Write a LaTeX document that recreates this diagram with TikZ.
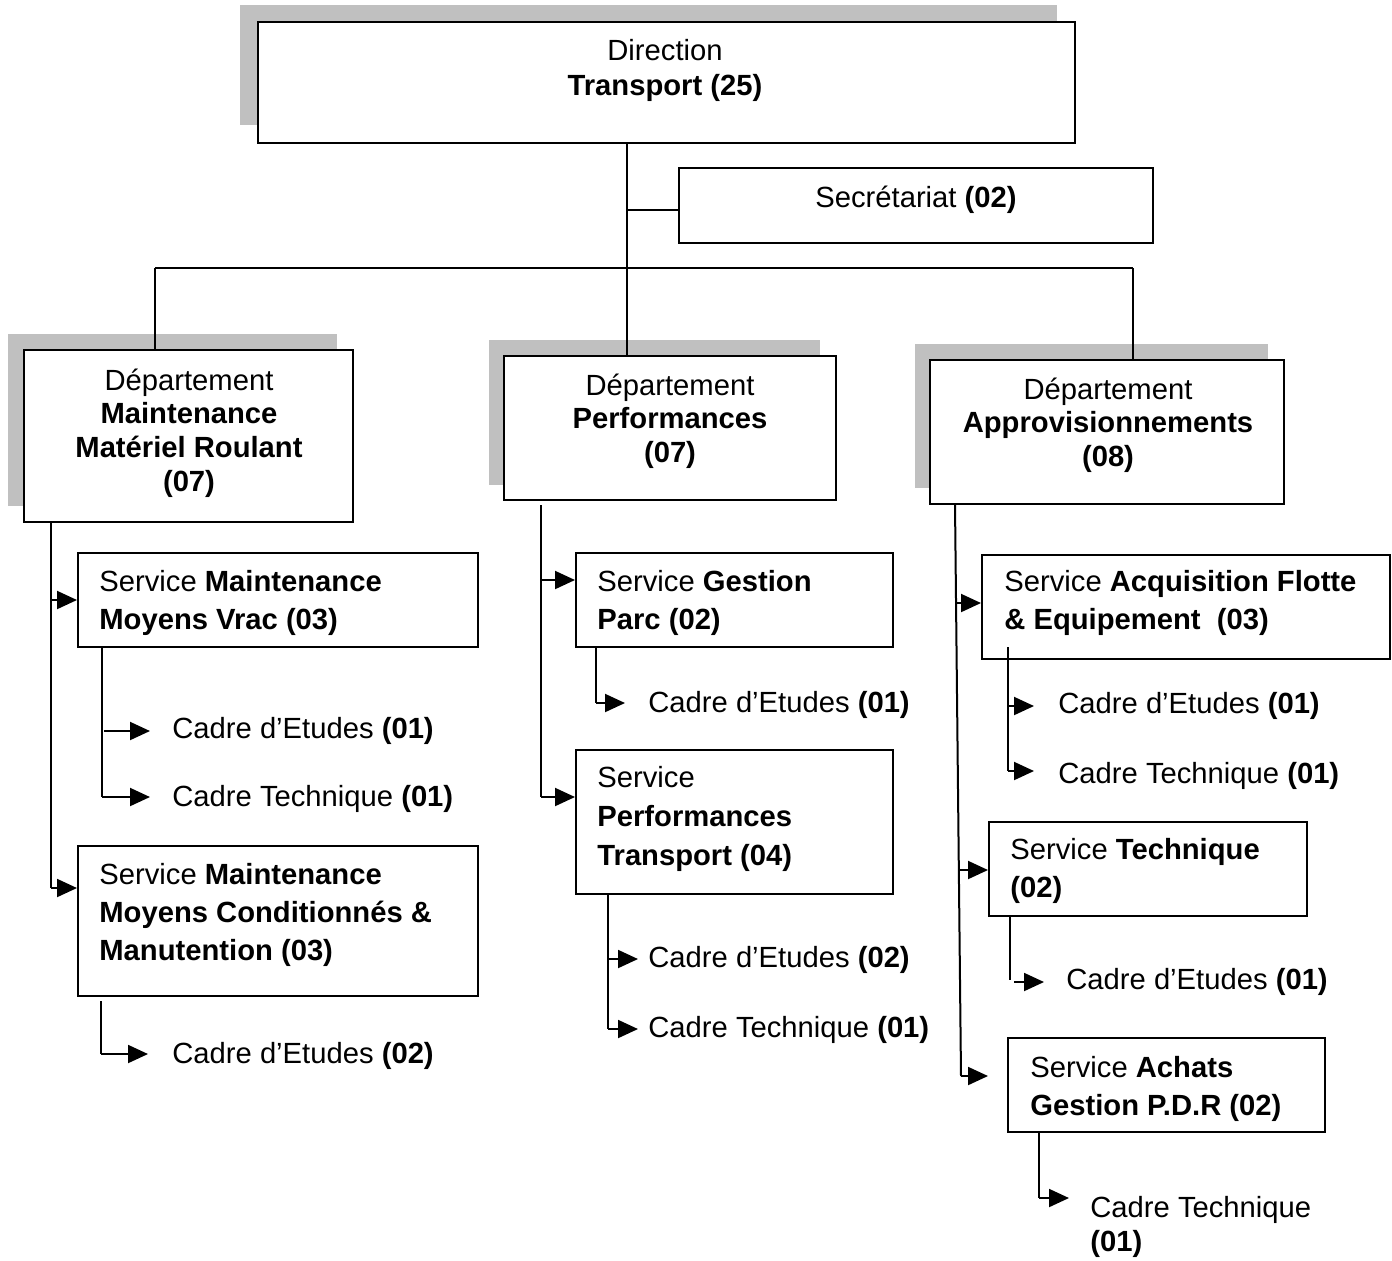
\documentclass[tikz,border=0pt]{standalone}
\usepackage{fontspec}
\setmainfont{Liberation Sans}
\usetikzlibrary{arrows.meta}
\definecolor{shadowc}{RGB}{192,192,192}
\tikzset{
  box/.style={draw=black, line width=1pt, fill=white, inner sep=0pt},
  shade/.style={fill=shadowc},
  ltxt/.style={inner sep=0pt, align=left, anchor=west, font=\fontsize{14.6}{19.3}\selectfont},
  ctxt/.style={inner sep=0pt, align=center, font=\fontsize{14.6}{16.8}\selectfont},
  leaf/.style={inner sep=0pt, anchor=west, font=\fontsize{14.6}{17}\selectfont},
  conn/.style={line width=1pt},
  arr/.style={line width=1pt, -{Triangle[length=10pt,width=9pt]}},
}
\begin{document}
\begin{tikzpicture}[x=0.5pt,y=-0.5pt]
\useasboundingbox (0,0) rectangle (1392,1260);

% shadows
\fill[shade] (240,5) rectangle (1057,125);
\fill[shade] (8,334) rectangle (337,506);
\fill[shade] (489,340) rectangle (820,485);
\fill[shade] (915,344) rectangle (1268,488);

% tree coordinates
\coordinate (busL) at (155,268);
\coordinate (busC) at (627,268);
\coordinate (busR) at (1133,268);
\coordinate (secJ) at (627,210);

% top-level connectors (drawn before boxes)
\draw[conn] (627,143) -- (busC);
\draw[conn] (busL) -- (busR);
\draw[conn] (busL) -- (155,350);
\draw[conn] (busC) -- (627,356);
\draw[conn] (busR) -- (1133,360);

% boxes
\node[box, minimum width=408.5pt, minimum height=60.5pt] (dir) at (666.5,82.5) {};
\node[box, minimum width=237pt, minimum height=37.5pt] (sec) at (916,205.5) {};
\node[box, minimum width=164.5pt, minimum height=86pt] (d1) at (188.5,436) {};
\node[box, minimum width=166pt, minimum height=72pt] (d2) at (670,428) {};
\node[box, minimum width=177pt, minimum height=72pt] (d3) at (1107,432) {};
\node[box, minimum width=200pt, minimum height=47pt] (s11) at (278,600) {};
\node[box, minimum width=200pt, minimum height=75pt] (s12) at (278,921) {};
\node[box, minimum width=158.5pt, minimum height=47pt] (s21) at (734.5,600) {};
\node[box, minimum width=158.5pt, minimum height=72pt] (s22) at (734.5,822) {};
\node[box, minimum width=204pt, minimum height=52pt] (s31) at (1186,607) {};
\node[box, minimum width=159pt, minimum height=47pt] (s32) at (1148,869) {};
\node[box, minimum width=158.5pt, minimum height=47pt] (s33) at (1166.5,1085) {};

% box texts
\node[ctxt, font=\fontsize{14.6}{17.5}\selectfont] (dirT) at (665,70) {Direction\\\textbf{Transport (25)}};
\node[ctxt] (secT) at (916,200) {Secrétariat \textbf{(02)}};
\node[ctxt] (d1T) at (189,433) {Département\\\textbf{Maintenance}\\\textbf{Matériel Roulant}\\\textbf{(07)}};
\node[ctxt] (d2T) at (670,421) {Département\\\textbf{Performances}\\\textbf{(07)}};
\node[ctxt] (d3T) at (1108,425) {Département\\\textbf{Approvisionnements}\\\textbf{(08)}};
\node[ltxt] (s11T) at (99,603) {Service \textbf{Maintenance}\\\textbf{Moyens Vrac (03)}};
\node[ltxt, font=\fontsize{14.6}{19}\selectfont] (s12T) at (99,915) {Service \textbf{Maintenance}\\\textbf{Moyens Conditionnés \&}\\\textbf{Manutention (03)}};
\node[ltxt] (s21T) at (597,603) {Service \textbf{Gestion}\\\textbf{Parc (02)}};
\node[ltxt] (s22T) at (597,819) {Service\\\textbf{Performances}\\\textbf{Transport (04)}};
\node[ltxt] (s31T) at (1004,603) {Service \textbf{Acquisition Flotte}\\\textbf{\& Equipement\ \ (03)}};
\node[ltxt] (s32T) at (1010,871) {Service \textbf{Technique}\\\textbf{(02)}};
\node[ltxt] (s33T) at (1030,1089) {Service \textbf{Achats}\\\textbf{Gestion P.D.R (02)}};

% leaves
\node[leaf] (l111) at (172,731) {Cadre d’Etudes \textbf{(01)}};
\node[leaf] (l112) at (172,799) {Cadre Technique \textbf{(01)}};
\node[leaf] (l121) at (172,1056) {Cadre d’Etudes \textbf{(02)}};
\node[leaf] (l211) at (648,705) {Cadre d’Etudes \textbf{(01)}};
\node[leaf] (l221) at (648,960) {Cadre d’Etudes \textbf{(02)}};
\node[leaf] (l222) at (648,1030) {Cadre Technique \textbf{(01)}};
\node[leaf] (l311) at (1058,706) {Cadre d’Etudes \textbf{(01)}};
\node[leaf] (l312) at (1058,776) {Cadre Technique \textbf{(01)}};
\node[leaf] (l321) at (1066,982) {Cadre d’Etudes \textbf{(01)}};
\node[leaf, align=left, font=\fontsize{14.6}{17}\selectfont] (l331) at (1090,1227) {Cadre Technique\\\textbf{(01)}};

% secretariat link
\draw[conn] (secJ) -- (secJ -| sec.west);

% department 1
\coordinate (t1a) at (51,522);
\coordinate (t1b) at (51,888);
\draw[conn] (t1a) -- (t1b);
\draw[arr] (t1a |- s11.west) -- (s11.west);
\draw[arr] (t1b) -- (t1b -| s12.west);
\coordinate (k11) at (102,797);
\draw[conn] (k11 |- s11.south) -- (k11);
\draw[arr] (104,731) -- ([xshift=-11pt]l111.west);
\draw[arr] (k11) -- ([xshift=-11pt]l112.west |- k11);
\coordinate (k12) at (101,1054);
\draw[conn] (101,1001) -- (k12);
\draw[arr] (k12) -- ([xshift=-12pt]l121.west |- k12);

% department 2
\coordinate (t2a) at (541,505);
\coordinate (t2b) at (541,797);
\draw[conn] (t2a) -- (t2b);
\draw[arr] (541,580) -- (s21.west |- 0,580);
\draw[arr] (t2b) -- (t2b -| s22.west);
\coordinate (k21) at (596,703);
\draw[conn] (k21 |- s21.south) -- (k21);
\draw[arr] (k21) -- ([xshift=-11.5pt]l211.west |- k21);
\coordinate (k22) at (608,1029);
\draw[conn] (k22 |- s22.south) -- (k22);
\draw[arr] (608,959) -- ([xshift=-5pt]l221.west |- 0,959);
\draw[arr] (k22) -- ([xshift=-5pt]l222.west |- k22);

% department 3
\coordinate (t3a) at (955,504);
\coordinate (t3b) at (961,1076);
\draw[conn] (t3a) -- (t3b);
\draw[arr] (956,603) -- (s31.west |- 0,603);
\draw[arr] (959,870) -- (s32.west |- 0,870);
\draw[arr] (t3b) -- ([xshift=-9.5pt]s33.west |- t3b);
\coordinate (k31) at (1008,771);
\draw[conn] (1008,647) -- (k31);
\draw[arr] (1008,706) -- ([xshift=-12pt]l311.west);
\draw[arr] (k31) -- ([xshift=-12pt]l312.west |- k31);
\coordinate (k32) at (1010,980);
\draw[conn] (k32 |- s32.south) -- (k32);
\draw[arr] (1014,982) -- ([xshift=-11pt]l321.west |- 0,982);
\coordinate (k33) at (1039,1198);
\draw[conn] (k33 |- s33.south) -- (k33);
\draw[arr] (k33) -- ([xshift=-10.5pt]l331.west |- k33);
\end{tikzpicture}
\end{document}
